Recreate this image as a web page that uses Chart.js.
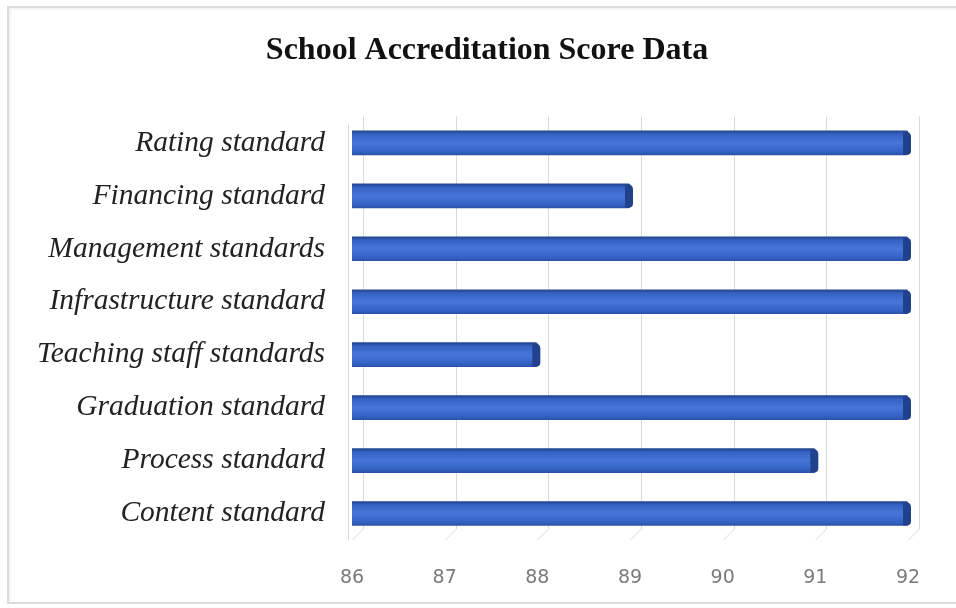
<!DOCTYPE html>
<html>
<head>
<meta charset="utf-8">
<script src="https://cdn.jsdelivr.net/npm/chart.js@4/dist/chart.umd.min.js"></script>
<style>
  html, body { margin: 0; padding: 0; background: #fff; }
  #wrap { position: relative; width: 956px; height: 608px; }
  #frame { position: absolute; left: 7px; top: 6px; width: 960px; height: 598px;
           border: 2px solid #dcdcdc; box-sizing: border-box; box-shadow: inset 1px 1px 3px #eee; }
  canvas { position: absolute; left: 0; top: 0; }
</style>
</head>
<body>
<div id="wrap">
  <div id="frame"></div>
  <canvas id="chart" width="956" height="608"></canvas>
</div>
<script>
const categories = ['Rating standard', 'Financing standard', 'Management standards', 'Infrastructure standard',
  'Teaching staff standards', 'Graduation standard', 'Process standard', 'Content standard'];
const scores = [92, 89, 92, 92, 88, 92, 91, 92];
const xTicks = [86, 87, 88, 89, 90, 91, 92];

const DEPTH = 11;

// back-wall grid with a small 3D offset, like the original spreadsheet chart
const wallGrid = {
  id: 'wallGrid',
  beforeDatasetsDraw(chart) {
    const { ctx, chartArea: a, scales: { x } } = chart;
    ctx.save();
    ctx.strokeStyle = '#d9d9d9';
    ctx.lineWidth = 1;
    xTicks.forEach(v => {
      const px = Math.round(x.getPixelForValue(v)) + 0.5;
      ctx.beginPath();
      ctx.moveTo(px + DEPTH, a.top);
      ctx.lineTo(px + DEPTH, a.bottom - DEPTH);
      ctx.lineTo(px, a.bottom);
      ctx.stroke();
    });
    // left wall edge
    const x0 = Math.round(x.getPixelForValue(xTicks[0])) - 3.5;
    ctx.beginPath();
    ctx.moveTo(x0, a.top + 8);
    ctx.lineTo(x0, a.bottom);
    ctx.stroke();
    ctx.restore();
  }
};

// gradient shading + darker end cap on each bar
const barShade = {
  id: 'barShade',
  beforeDatasetsDraw(chart) {
    const { ctx } = chart;
    chart.getDatasetMeta(0).data.forEach(bar => {
      const h = bar.height;
      const g = ctx.createLinearGradient(0, bar.y - h / 2, 0, bar.y + h / 2);
      g.addColorStop(0, '#23448f');
      g.addColorStop(0.15, '#3563c4');
      g.addColorStop(0.5, '#4676d8');
      g.addColorStop(0.85, '#3463c6');
      g.addColorStop(1, '#2b52a8');
      bar.options.backgroundColor = g;
    });
  },
  afterDatasetsDraw(chart) {
    const { ctx } = chart;
    ctx.save();
    chart.getDatasetMeta(0).data.forEach(bar => {
      const h = bar.height;
      ctx.fillStyle = '#22418c';
      ctx.beginPath();
      ctx.moveTo(bar.x - 5, bar.y - h / 2 + 1);
      ctx.lineTo(bar.x, bar.y - h / 2 + 1);
      ctx.quadraticCurveTo(bar.x + 3, bar.y - h / 2 + 2, bar.x + 3, bar.y - h / 2 + 6);
      ctx.lineTo(bar.x + 3, bar.y + h / 2 - 4);
      ctx.quadraticCurveTo(bar.x + 3, bar.y + h / 2, bar.x - 2, bar.y + h / 2);
      ctx.lineTo(bar.x - 5, bar.y + h / 2);
      ctx.closePath();
      ctx.fill();
    });
    ctx.restore();
  }
};

new Chart(document.getElementById('chart'), {
  type: 'bar',
  data: {
    labels: categories,
    datasets: [{ label: 'Score', data: scores, backgroundColor: () => '#3a6bd0', barThickness: 24,
                 borderRadius: { topLeft: 4, bottomLeft: 3, topRight: 2, bottomRight: 2 }, borderSkipped: false }]
  },
  options: {
    indexAxis: 'y',
    responsive: false,
    animation: false,
    layout: { padding: { left: 20, right: 2, top: 32, bottom: 18 } },
    plugins: {
      legend: { display: false },
      tooltip: { enabled: false },
      title: {
        display: true,
        text: 'School Accreditation Score Data',
        color: '#111',
        font: { family: '"Liberation Serif", "Times New Roman", serif', size: 32, weight: 'bold' },
        padding: { top: 0, bottom: 46 }
      }
    },
    scales: {
      x: {
        min: 86, max: 92,
        afterBuildTicks: s => { s.ticks = xTicks.map(v => ({ value: v })); },
        afterFit: s => { s.height = 50; },
        grid: { display: false },
        border: { display: false },
        ticks: { color: '#7a7a7a', padding: 19, font: { family: '"DejaVu Sans", "Open Sans", sans-serif', size: 19 } }
      },
      y: {
        afterFit: s => { s.width = 332; },
        grid: { display: false },
        border: { display: false },
        ticks: { color: '#222', padding: 19,
                 font: { family: '"Liberation Serif", "Times New Roman", serif', size: 29.5, style: 'italic' } }
      },
      // empty right-hand margin so the plot ends where the original does
      yRight: {
        type: 'category',
        position: 'right',
        afterFit: s => { s.width = 46; },
        grid: { display: false },
        border: { display: false },
        ticks: { display: false }
      }
    }
  },
  plugins: [wallGrid, barShade]
});
</script>
</body>
</html>
